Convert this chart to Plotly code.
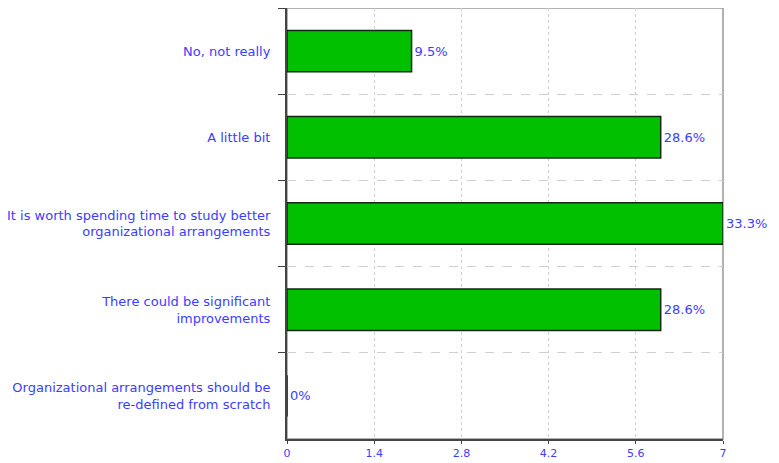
import plotly.graph_objects as go

categories = [
    "No, not really",
    "A little bit",
    "It is worth spending time to study better<br>organizational arrangements",
    "There could be significant<br>improvements",
    "Organizational arrangements should be<br>re-defined from scratch",
]
counts = [2, 6, 7, 6, 0]
percent_labels = ["9.5%", "28.6%", "33.3%", "28.6%", "0%"]
x_ticks = [0, 1.4, 2.8, 4.2, 5.6, 7]
x_tick_labels = ["0", "1.4", "2.8", "4.2", "5.6", "7"]

blue = "#3c3cff"
font_family = "DejaVu Sans, Verdana"

fig = go.Figure()
fig.add_trace(go.Bar(
    y=categories, x=counts, orientation="h",
    marker=dict(color="#00c000", line=dict(color="#102810", width=1.5)),
    text=percent_labels, textposition="outside", cliponaxis=False,
    constraintext="none",
    textfont=dict(color=blue, size=13, family=font_family),
))

# page body adds an 8px offset, so margins are shifted to compensate
fig.update_layout(
    width=779, height=463,
    margin=dict(l=279, r=64, t=0, b=32),
    plot_bgcolor="white", paper_bgcolor="white",
    bargap=0.52, showlegend=False,
    font=dict(family=font_family, size=13, color=blue),
    shapes=[dict(type="rect", xref="paper", yref="paper", x0=0, y0=0, x1=1, y1=1,
                 line=dict(color="#999999", width=1.5), layer="below")],
)
fig.update_xaxes(
    range=[0, 7], tickvals=x_ticks, ticktext=x_tick_labels, automargin=False,
    showline=True, linecolor="#444444", linewidth=2,
    ticks="outside", ticklen=3, tickcolor="#444444",
    showgrid=True, gridcolor="#d0d0d0", griddash="dot", gridwidth=1,
    zeroline=False, tickfont=dict(color=blue, size=11),
)
fig.update_yaxes(
    type="category", autorange="reversed", tickson="boundaries", automargin=False,
    showline=True, linecolor="#444444", linewidth=2,
    ticks="outside", ticklen=7, tickcolor="#444444",
    showgrid=True, gridcolor="#d0d0d0", griddash="dash", gridwidth=1,
    ticklabelstandoff=12, tickfont=dict(color=blue, size=13),
)

fig.write_html("out.html")
